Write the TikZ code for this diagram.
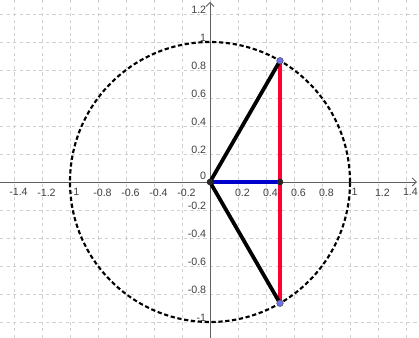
\documentclass[tikz,border=0pt]{standalone}
\usepackage{fontspec}
\setmainfont{Liberation Sans}
\usetikzlibrary{arrows.meta}
\definecolor{gridc}{HTML}{D0D0D0}
\definecolor{axisc}{HTML}{606060}
\definecolor{redseg}{HTML}{FF0033}
\definecolor{blueseg}{HTML}{0000CC}
\definecolor{ptfill}{HTML}{7070F0}
\tikzset{
  gridline/.style={gridc, line width=0.5pt, dash pattern=on 2pt off 2pt},
  axisline/.style={axisc, line width=0.6pt, -{Straight Barb[length=2.5pt,width=5pt]}},
  ticklab/.style={inner sep=0pt, font=\fontsize{6.5}{7}\selectfont, text=black!75},
  circ/.style={black, line width=1.3pt, dash pattern=on 2.6pt off 1.6pt},
  blackseg/.style={black, line width=2.3pt},
  redsegs/.style={redseg, line width=2.3pt},
  bluesegs/.style={blueseg, line width=2pt},
  bdot/.style={circle, fill=black!85, inner sep=0pt, minimum size=4pt},
  pdot/.style={circle, fill=ptfill, draw=black!70, line width=0.3pt, inner sep=0pt, minimum size=4pt}
}
\begin{document}
\begin{tikzpicture}[x=3cm,y=3cm]
\useasboundingbox (-1.5,-1.114) rectangle (1.493,1.3);
% grid
\foreach \v in {-1.4,-1.2,...,1.45} \draw[gridline] (\v,-1.114) -- (\v,1.3);
\foreach \v in {-1,-0.8,...,1.25} \draw[gridline] (-1.5,\v) -- (1.493,\v);
% axes
\coordinate (xs) at (-1.5,0);
\coordinate (xe) at (1.478,0);
\coordinate (ys) at (0,-1.114);
\coordinate (ye) at (0,1.287);
\draw[axisline] (xs) -- (xe);
\draw[axisline] (ys) -- (ye);
% x labels
\foreach \v/\t in {-1.4/-1.4,-1.2/-1.2,-1/-1,-0.8/-0.8,-0.6/-0.6,-0.4/-0.4,-0.2/-0.2,0.2/0.2,0.4/0.4,0.6/0.6,0.8/0.8,1/1,1.2/1.2,1.4/1.4}
  \node[ticklab, anchor=north] (xl\t) at (\v+0.032,-0.045) {\t};
% y labels
\foreach \v/\t in {-1/-1,-0.8/-0.8,-0.6/-0.6,-0.4/-0.4,-0.2/-0.2,0.2/0.2,0.4/0.4,0.6/0.6,0.8/0.8,1/1,1.2/1.2}
  \node[ticklab, anchor=south east] (yl\t) at (-0.025,\v) {\t};
\node[ticklab, anchor=south east] (zero) at (-0.025,0.014) {0};
% circle
\draw[circ] (0,0) circle (1);
% points
\coordinate (O) at (0,0);
\coordinate (M) at (0.5,0);
\coordinate (P) at (0.5,0.866);
\coordinate (Q) at (0.5,-0.866);
\draw[redsegs] (P) -- (Q);
\draw[blackseg] (O) -- (P);
\draw[blackseg] (O) -- (Q);
\draw[bluesegs] (O) -- (M);
\node[bdot] (Odot) at (O) {};
\node[bdot] (Mdot) at (M) {};
\node[pdot] (Pdot) at (P) {};
\node[pdot] (Qdot) at (Q) {};
\end{tikzpicture}
\end{document}
